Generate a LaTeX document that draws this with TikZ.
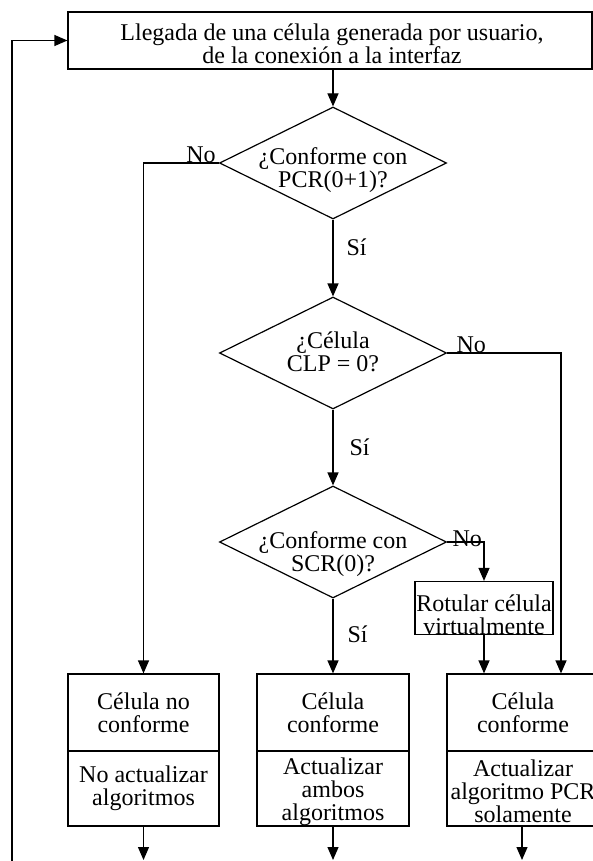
\documentclass[tikz,border=0pt]{standalone}
\usepackage{fontspec}
\setmainfont{Liberation Serif}
\usetikzlibrary{shapes.geometric,arrows.meta}
\begin{document}
\begin{tikzpicture}[x=1pt,y=-1pt,
  line width=1.2pt,
  txt/.style={font=\fontsize{24}{23}\selectfont, align=center, inner sep=0pt},
  box/.style={draw, rectangle, inner sep=0pt},
  dia/.style={draw, diamond, minimum width=227pt, minimum height=112pt, inner sep=0pt},
  arr/.style={-{Triangle[length=13pt,width=11pt]}},
  lbl/.style={font=\fontsize{24}{23}\selectfont, inner sep=0pt},
]
\useasboundingbox (0,0) rectangle (593,861);
\clip (0,0) rectangle (593,861);

% top box
\node[box, minimum width=524pt, minimum height=57pt] (top) at (330,40.5) {};
\node[txt] (topt) at (332,43.3) {Llegada de una célula generada por usuario,\\de la conexión a la interfaz};

% diamonds
\node[dia] (d1) at (333,163) {};
\node[txt] (d1t) at (333,170) {¿Conforme con\\PCR(0+1)?};
\node[dia] (d2) at (333,353) {};
\node[txt] (d2t) at (333,351.5) {¿Célula\\CLP = 0?};
\node[dia] (d3) at (333,542) {};
\node[txt] (d3t) at (333,554) {¿Conforme con\\SCR(0)?};

% rotular box
\node[box, minimum width=138pt, minimum height=53pt] (rot) at (484,608) {};
\node[txt] (rott) at (484,615) {Rotular célula\\virtualmente};

% bottom boxes
\node[box, txt, minimum width=151pt, minimum height=77pt] (b1a) at (143.5,712.5) {Célula no\\conforme};
\node[box, txt, minimum width=151pt, minimum height=75pt] (b1b) at (143.5,788.5) {No actualizar\\algoritmos};
\node[box, txt, minimum width=152pt, minimum height=77pt] (b2a) at (333,712.5) {Célula\\conforme};
\node[box, minimum width=152pt, minimum height=75pt] (b2b) at (333,788.5) {};
\node[txt] (b2t) at (333,791.5) {Actualizar\\ambos\\algoritmos};
\node[box, txt, minimum width=152pt, minimum height=77pt] (b3a) at (523,712.5) {Célula\\conforme};
\node[box, minimum width=152pt, minimum height=75pt] (b3b) at (523,788.5) {};
\node[txt] (b3t) at (523,791) {Actualizar\\algoritmo PCR\\solamente};

% labels
\node[lbl, anchor=base] (no1) at (201,163) {No};
\node[lbl, anchor=base west] (si1) at (346,255) {Sí};
\node[lbl, anchor=base west] (no2) at (456,352) {No};
\node[lbl, anchor=base west] (si2) at (349,455) {Sí};
\node[lbl, anchor=base west] (no3) at (452,546) {No};
\node[lbl, anchor=base west] (si3) at (347,642) {Sí};

% coordinates
\coordinate (loopb) at (12,861);
\coordinate (c2) at (561,353);
\coordinate (e1) at (143.5,860);
\coordinate (e2) at (333,860);
\coordinate (e3) at (522,860);

% connectors
\draw[arr] (loopb) |- (top.west);
\draw[arr] (top.south -| d1.north) -- (d1.north);
\draw[arr] (d1.west) -| (b1a.north);
\draw[arr] (d1.south) -- (d2.north);
\draw[arr] (d2.east) -- (c2) -- (c2 |- b3a.north);
\draw[arr] (d2.south) -- (d3.north);
\draw[arr] (d3.east) -| (rot.north);
\draw[arr] (rot.south) -- (rot.south |- b3a.north);
\draw[arr] (d3.south) -- (b2a.north);
\draw[arr] (b1b.south) -- (e1);
\draw[arr] (b2b.south) -- (e2);
\draw[arr] (b3b.south -| e3) -- (e3);
\end{tikzpicture}
\end{document}
